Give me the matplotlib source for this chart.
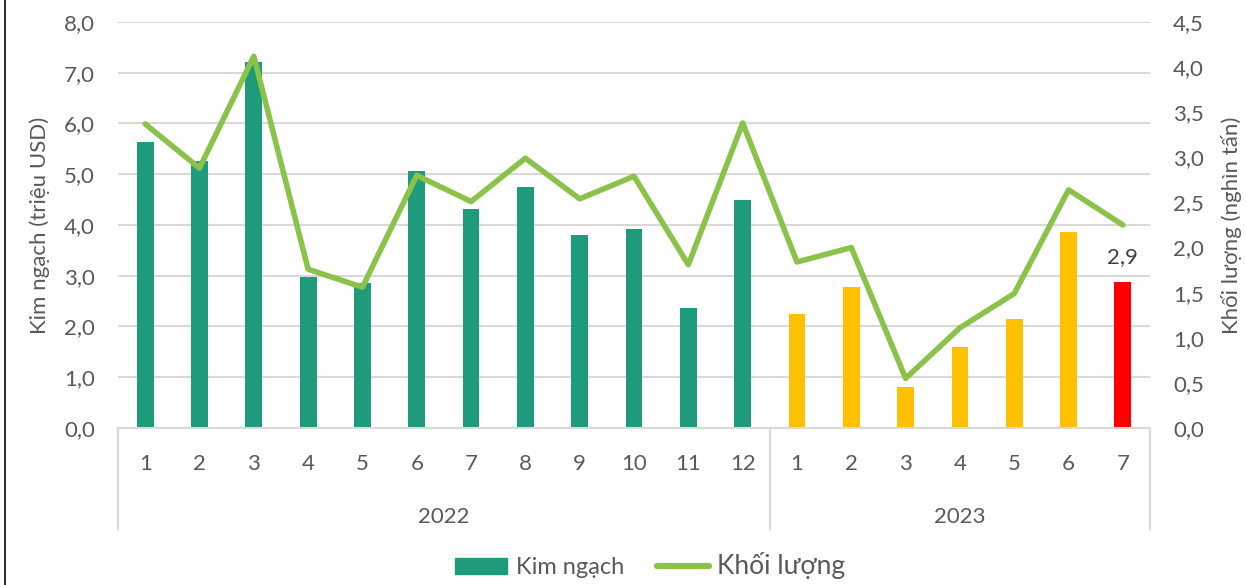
import matplotlib.pyplot as plt
from matplotlib.lines import Line2D
from matplotlib.patches import Patch
import numpy as np

plt.rcParams['font.family'] = ['Lato', 'DejaVu Sans']

# monthly data, 2022-01 .. 2023-07
months = ["1", "2", "3", "4", "5", "6", "7", "8", "9", "10", "11", "12",
          "1", "2", "3", "4", "5", "6", "7"]
years = ["2022", "2023"]
months_per_year = [12, 7]
kim_ngach = [5.64, 5.26, 7.21, 2.98, 2.85, 5.06, 4.31, 4.75, 3.80, 3.92, 2.36, 4.49,
             2.25, 2.78, 0.81, 1.60, 2.15, 3.86, 2.88]
khoi_luong = [3.37, 2.88, 4.12, 1.76, 1.56, 2.80, 2.51, 2.99, 2.54, 2.79, 1.81, 3.38,
              1.84, 2.00, 0.55, 1.11, 1.49, 2.64, 2.25]

GREEN = "#1E9B7A"
AMBER = "#FFC000"
RED = "#FF0000"
LINE = "#8BC34A"
TXT = "#595959"
GRID = "#D9D9D9"

bar_colors = [GREEN] * 12 + [AMBER] * 6 + [RED]

fig = plt.figure(figsize=(12.46, 5.85), dpi=100)
ax = fig.add_axes([0.0947, 0.2684, 0.8283, 0.694])
ax2 = ax.twinx()

x = np.arange(len(months))
ax.bar(x, kim_ngach, width=0.31, color=bar_colors, zorder=2)
ax2.plot(x, khoi_luong, color=LINE, lw=4, solid_joinstyle='round',
         solid_capstyle='round', zorder=3)

# value label on the latest month
ax.text(x[-1], kim_ngach[-1] + 0.3, f"{kim_ngach[-1]:.1f}".replace(".", ","),
        ha='center', va='bottom', fontsize=16, color="#404040")

ax.set_xlim(-0.5, len(months) - 0.5)
ax.set_ylim(0, 8)
ax2.set_ylim(0, 4.5)
ax.set_yticks(np.arange(0, 8.01, 1))
ax2.set_yticks(np.arange(0, 4.51, 0.5))
ax.set_yticklabels([f"{v:.1f}".replace(".", ",") for v in ax.get_yticks()])
ax2.set_yticklabels([f"{v:.1f}".replace(".", ",") for v in ax2.get_yticks()])

ax.yaxis.grid(True, color=GRID, lw=1.5, zorder=0)
ax.set_axisbelow(True)
for a in (ax, ax2):
    for s in a.spines.values():
        s.set_visible(False)
    a.tick_params(length=0, labelsize=16, labelcolor=TXT)
ax.spines['bottom'].set_visible(True)
ax.spines['bottom'].set_color(GRID)
ax.spines['bottom'].set_linewidth(1.5)
ax.tick_params(axis='y', pad=16.5)
ax2.tick_params(axis='y', pad=16.5)

ax.set_xticks(x)
ax.set_xticklabels(months)
ax.tick_params(axis='x', pad=19)

# year level of the category axis
trans = ax.get_xaxis_transform()
start = -0.5
seps = [start]
for yr, n in zip(years, months_per_year):
    ax.text(start + n / 2, -0.219, yr, transform=trans, ha='center', va='center',
            fontsize=16, color=TXT)
    start += n
    seps.append(start)
for s in seps:
    ax.plot([s, s], [0, -0.25], transform=trans, color=GRID, lw=1.5, clip_on=False)

ax.set_ylabel("Kim ngạch (triệu USD)", fontsize=16, color=TXT, labelpad=10)
ax2.set_ylabel("Khối lượng (nghìn tấn)", fontsize=16, color=TXT, labelpad=12)

handles = [Patch(color=GREEN, label="Kim ngạch"),
           Line2D([0], [0], color=LINE, lw=4.5, solid_capstyle='round', label="Khối lượng")]
leg = fig.legend(handles=handles, loc='center', bbox_to_anchor=(0.522, 0.033), ncol=2,
                 frameon=False, fontsize=17, handlelength=2.2, handletextpad=0.35,
                 columnspacing=1.4, labelcolor=TXT)
leg.get_texts()[1].set_fontsize(19)

fig.add_artist(Line2D([0.004, 0.004], [0, 1], color="#333333", lw=1.5))

fig.savefig("out.png", dpi=100)
